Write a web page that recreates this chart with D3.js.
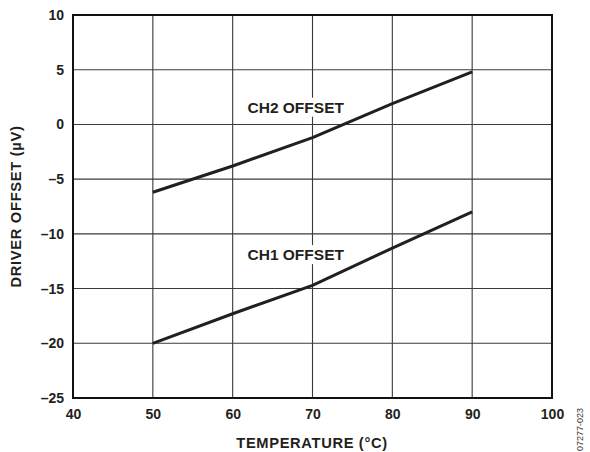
<!DOCTYPE html>
<html>
<head>
<meta charset="utf-8">
<script src="https://cdn.jsdelivr.net/npm/d3@7"></script>
<style>
  html, body { margin: 0; padding: 0; background: #fff; }
  svg text { font-family: "Liberation Sans", Arial, sans-serif; }
</style>
</head>
<body>
<svg id="chart" width="590" height="452"></svg>
<script>
// Driver offset versus temperature, two channels
const temperature = [50, 60, 70, 80, 90];
const ch1Offset = [-20.0, -17.3, -14.7, -11.3, -8.0];
const ch2Offset = [-6.2, -3.8, -1.2, 1.9, 4.8];
const xTicks = [40, 50, 60, 70, 80, 90, 100];
const yTicks = [-25, -20, -15, -10, -5, 0, 5, 10];
const seriesLabels = ["CH1 OFFSET", "CH2 OFFSET"];

const svg = d3.select("#chart");
const margin = { left: 73, right: 38, top: 15, bottom: 54 };
const W = 590, H = 452;
const x = d3.scaleLinear().domain([40, 100]).range([margin.left, W - margin.right]);
const y = d3.scaleLinear().domain([-25, 10]).range([H - margin.bottom, margin.top]);

const ink = "#231f20";
const font = "Liberation Sans, Arial, sans-serif";

// grid
const grid = svg.append("g");
grid.selectAll("line.v").data(xTicks.slice(1, -1)).join("line")
  .attr("x1", d => x(d)).attr("x2", d => x(d))
  .attr("y1", y(-25)).attr("y2", y(10))
  .attr("stroke", "#3a3a3a").attr("stroke-width", 1.1);
grid.selectAll("line.h").data(yTicks.slice(1, -1)).join("line")
  .attr("x1", x(40)).attr("x2", x(100))
  .attr("y1", d => y(d)).attr("y2", d => y(d))
  .attr("stroke", "#3a3a3a").attr("stroke-width", 1.1);

// axes (labels only; the frame is drawn separately)
const xAxis = d3.axisBottom(x).tickValues(xTicks).tickSize(0).tickPadding(11)
  .tickFormat(d => String(d));
const gx = svg.append("g").attr("transform", `translate(0,${y(-25)})`).call(xAxis);
gx.select(".domain").remove();
gx.selectAll("text").attr("font-size", 14).attr("font-weight", "bold").attr("fill", ink)
  .attr("font-family", font);

const yAxis = d3.axisLeft(y).tickValues(yTicks).tickSize(0).tickPadding(9)
  .tickFormat(d => d < 0 ? "\u2013" + Math.abs(d) : String(d));
const gy = svg.append("g").attr("transform", `translate(${x(40)},0)`).call(yAxis);
gy.select(".domain").remove();
gy.selectAll("text").attr("font-size", 14).attr("font-weight", "bold").attr("fill", ink)
  .attr("font-family", font);

// series lines
const line = d3.line().x((d, i) => x(temperature[i])).y(d => y(d));
[ch1Offset, ch2Offset].forEach(s => {
  svg.append("path").datum(s).attr("d", line)
    .attr("fill", "none").attr("stroke", ink).attr("stroke-width", 3)
    .attr("stroke-linejoin", "round");
});

// series labels with white backing
const labelPos = [
  { text: seriesLabels[0], tx: 67.9, ty: -12.4 },
  { text: seriesLabels[1], tx: 67.9, ty: 1.07 }
];
labelPos.forEach(l => {
  const t = svg.append("text").attr("x", x(l.tx)).attr("y", y(l.ty))
    .attr("text-anchor", "middle").attr("font-size", 15.5).attr("font-weight", "bold")
    .attr("fill", ink).text(l.text);
  const bb = t.node().getBBox();
  svg.insert("rect", () => t.node())
    .attr("x", bb.x - 2).attr("y", bb.y - 1).attr("width", bb.width + 4).attr("height", bb.height + 2)
    .attr("fill", "#fff");
});

// frame
svg.append("rect").attr("x", x(40)).attr("y", y(10))
  .attr("width", x(100) - x(40)).attr("height", y(-25) - y(10))
  .attr("fill", "none").attr("stroke", "#111").attr("stroke-width", 2);

// axis titles
svg.append("text").attr("x", 312).attr("y", 448)
  .attr("text-anchor", "middle").attr("font-size", 14.7).attr("font-weight", "bold")
  .attr("letter-spacing", 0.65)
  .attr("fill", ink).text("TEMPERATURE (°C)");
svg.append("text").attr("transform", `translate(21,206.5) rotate(-90)`)
  .attr("text-anchor", "middle").attr("font-size", 14.7).attr("font-weight", "bold")
  .attr("letter-spacing", 0.7)
  .attr("fill", ink).text("DRIVER OFFSET (µV)");

// figure code
svg.append("text").attr("transform", "translate(583,451) rotate(-90)")
  .attr("text-anchor", "start").attr("font-size", 9)
  .attr("fill", "#333").text("07277-023");
</script>
</body>
</html>
